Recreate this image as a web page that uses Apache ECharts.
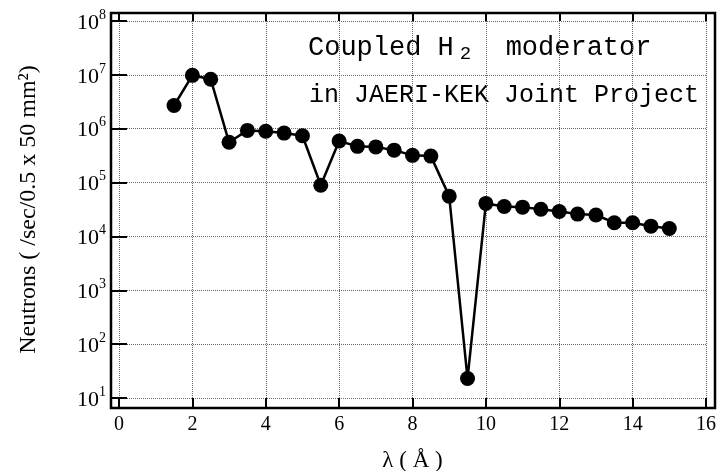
<!DOCTYPE html>
<html>
<head>
<meta charset="utf-8">
<script src="https://cdn.jsdelivr.net/npm/echarts@6/dist/echarts.min.js"></script>
<style>
  html, body { margin: 0; padding: 0; background: #fff; }
  #chart { width: 721px; height: 471px; }
</style>
</head>
<body>
<div id="chart"></div>
<script>
// wavelength (Å)
const lambda = [1.5, 2, 2.5, 3, 3.5, 4, 4.5, 5, 5.5, 6, 6.5, 7, 7.5, 8, 8.5, 9, 9.5, 10,
  10.5, 11, 11.5, 12, 12.5, 13, 13.5, 14, 14.5, 15];
// neutrons /sec/0.5 x 50 mm^2
const neutrons = [2.7e6, 9.8e6, 8.3e6, 5.6e5, 9.3e5, 9.0e5, 8.3e5, 7.4e5, 8.9e4, 5.9e5,
  4.7e5, 4.6e5, 4.0e5, 3.2e5, 3.1e5, 5.6e4, 23, 4.1e4, 3.6e4, 3.5e4, 3.2e4, 2.9e4,
  2.6e4, 2.5e4, 1.8e4, 1.8e4, 1.55e4, 1.4e4];
const xTicks = [0, 2, 4, 6, 8, 10, 12, 14, 16];
const yExps = [1, 2, 3, 4, 5, 6, 7, 8];

const chart = echarts.init(document.getElementById("chart"));
const serif = "Liberation Serif";
const mono = "Liberation Mono";

const gridLine = { show: true, lineStyle: { color: "#666", type: "dotted", width: 1 } };
const tick = { show: true, inside: true, length: 8, lineStyle: { color: "#000", width: 2 } };

let option = {
  animation: false,
  backgroundColor: "#fff",
  grid: [
    { left: 119, right: 15, top: 21, bottom: 73, outerBoundsMode: "none", containLabel: false },
    // outer frame
    {
      left: 111, right: 6, top: 13, bottom: 63, outerBoundsMode: "none", containLabel: false,
      show: true, borderColor: "#000", borderWidth: 2.5, backgroundColor: "transparent",
    },
  ],
  xAxis: [
    {
      type: "value",
      gridIndex: 0,
      min: xTicks[0],
      max: xTicks[xTicks.length - 1],
      interval: 2,
      offset: 10,
      axisLine: { show: false },
      axisTick: { ...tick, length: 10 },
      splitLine: gridLine,
      axisLabel: { color: "#000", fontFamily: serif, fontSize: 20, margin: 7 },
      name: "λ ( Å )",
      nameLocation: "middle",
      nameGap: 41,
      nameTextStyle: { color: "#000", fontFamily: serif, fontSize: 23 },
    },
    {
      type: "value",
      gridIndex: 0,
      position: "top",
      min: xTicks[0],
      max: xTicks[xTicks.length - 1],
      interval: 2,
      offset: 8,
      axisLine: { show: false },
      axisTick: tick,
      axisLabel: { show: false },
      splitLine: { show: false },
    },
    { type: "value", gridIndex: 1, show: false },
  ],
  yAxis: [
    {
      type: "log",
      gridIndex: 0,
      logBase: 10,
      min: Math.pow(10, yExps[0]),
      max: Math.pow(10, yExps[yExps.length - 1]),
      offset: 8,
      axisLine: { show: false },
      axisTick: tick,
      splitLine: gridLine,
      axisLabel: {
        margin: 5,
        formatter: (v) => "{b|10}{s|" + Math.round(Math.log10(v)) + "}",
        rich: {
          b: { color: "#000", fontFamily: serif, fontSize: 22, lineHeight: 26, verticalAlign: "bottom", padding: [6, 0, 0, 0] },
          s: { color: "#000", fontFamily: serif, fontSize: 14, lineHeight: 26, verticalAlign: "top" },
        },
      },
      name: "Neutrons ( /sec/0.5 x 50 mm²)",
      nameLocation: "middle",
      nameGap: 70,
      nameTextStyle: { color: "#000", fontFamily: serif, fontSize: 24 },
    },
    {
      type: "log",
      gridIndex: 0,
      position: "right",
      logBase: 10,
      min: Math.pow(10, yExps[0]),
      max: Math.pow(10, yExps[yExps.length - 1]),
      offset: 9,
      axisLine: { show: false },
      axisTick: tick,
      axisLabel: { show: false },
      splitLine: { show: false },
    },
    { type: "value", gridIndex: 1, show: false },
  ],
  graphic: [
    {
      type: "text",
      left: 308,
      top: 34,
      style: {
        text: "Coupled H{sub|2}  moderator",
        fill: "#000",
        font: "27px " + mono,
        rich: {
          sub: { fontFamily: mono, fontSize: 19, fill: "#000", padding: [12, 2, 0, 6] },
        },
      },
    },
    {
      type: "text",
      left: 309,
      top: 83,
      style: { text: "in JAERI-KEK Joint Project", fill: "#000", font: "25px " + mono },
    },
  ],
  series: [
    {
      type: "line",
      xAxisIndex: 0,
      yAxisIndex: 0,
      data: lambda.map((x, i) => [x, neutrons[i]]),
      symbol: "circle",
      symbolSize: 15,
      lineStyle: { color: "#000", width: 2.5 },
      itemStyle: { color: "#000" },
    },
  ],
};
chart.setOption(option);
</script>
</body>
</html>
